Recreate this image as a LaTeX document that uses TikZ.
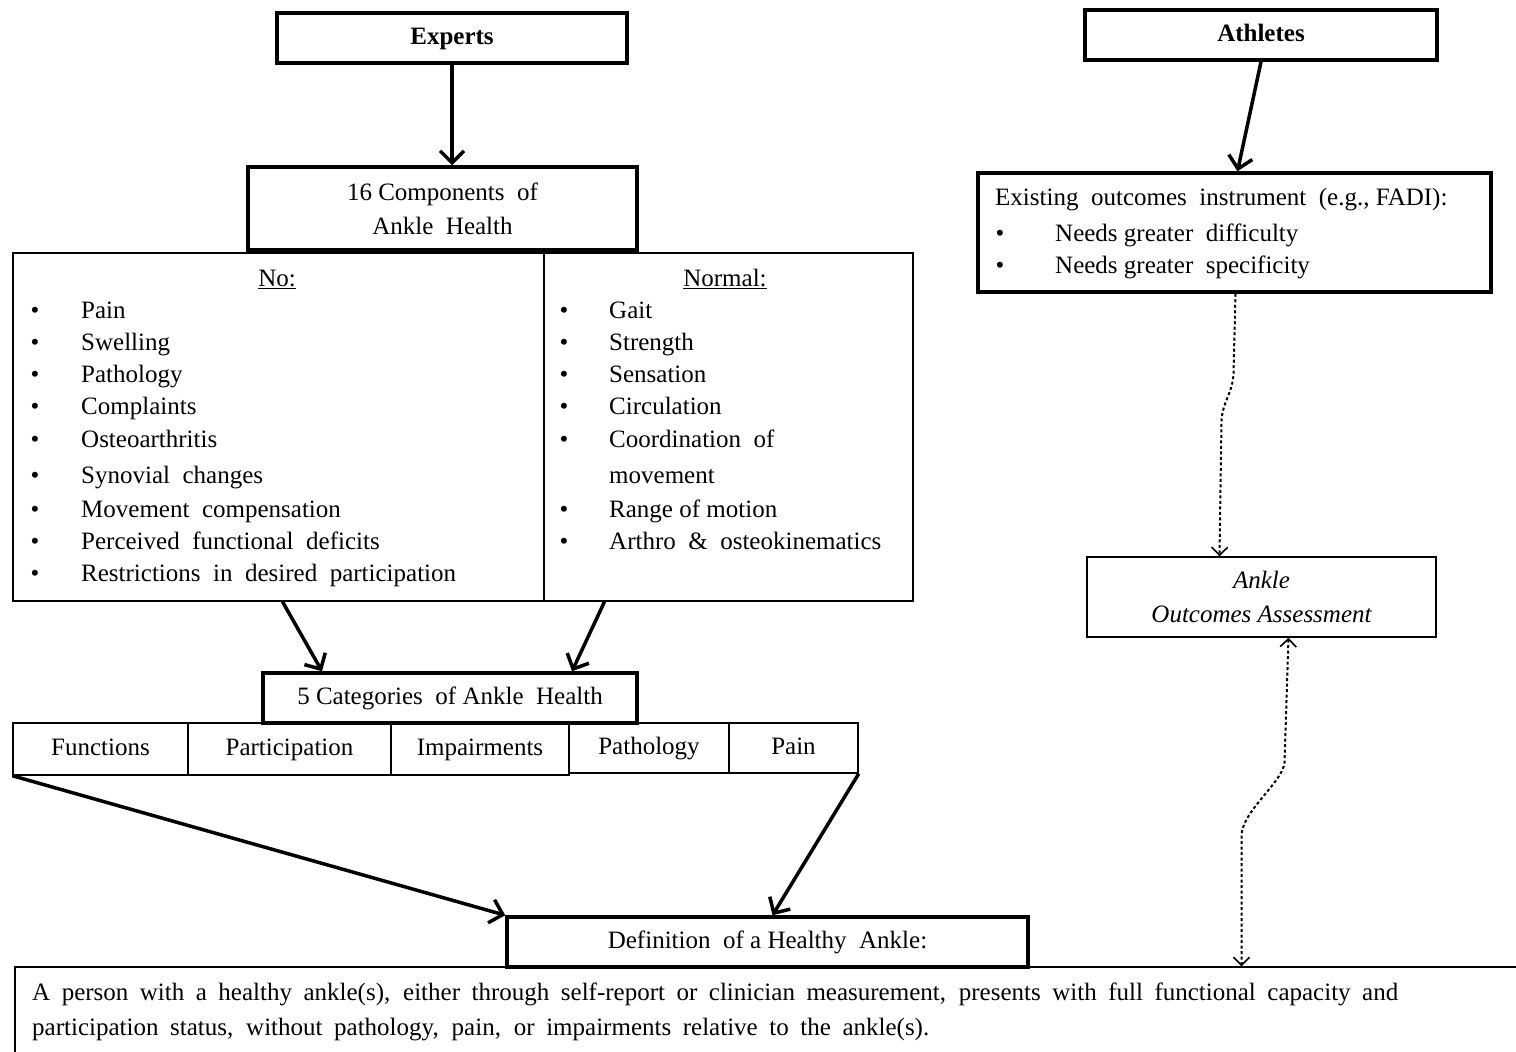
\documentclass[tikz,border=0pt]{standalone}
\usepackage{fontspec}
\setmainfont{Liberation Serif}
\usetikzlibrary{arrows.meta,calc}
\begin{document}
\begin{tikzpicture}[x=1pt,y=-1pt,
  every node/.style={font=\fontsize{25}{34}\selectfont, inner sep=0pt},
  thickbox/.style={draw, line width=3.5pt, fill=white},
  thinbox/.style={draw, line width=1.4pt},
  fixh/.style={text height=17pt, text depth=5pt},
  txt/.style={anchor=west, fixh},
  bul/.style={anchor=center, fixh},
  bigarrow/.style={line width=3.5pt, -{Straight Barb[length=12pt,width=24pt]}},
  dotarrow/.style={line width=2pt, dash pattern=on 3pt off 2.5pt, -{Straight Barb[length=8pt,width=16pt,line width=1.6pt]}},
  dotarrow2/.style={line width=2pt, dash pattern=on 3pt off 2.5pt, {Straight Barb[length=8pt,width=16pt,line width=1.6pt]}-{Straight Barb[length=8pt,width=16pt,line width=1.6pt]}}
]
\useasboundingbox (0,0) rectangle (1516,1052);
\fill[white] (0,0) rectangle (1516,1052);

% list boxes
\node[thinbox, minimum width=531, minimum height=348] (nobox) at (278.5,427) {};
\node[thinbox, minimum width=369, minimum height=348] (normbox) at (728.5,427) {};

% top boxes
\node[thickbox, minimum width=350, minimum height=50, fixh] (experts) at (452,38) {\textbf{Experts}};
\node[thickbox, minimum width=352, minimum height=50, fixh] (athletes) at (1261,35) {\textbf{Athletes}};
\node[thickbox, minimum width=389, minimum height=83, align=center] (comp) at (442.5,208.5) {16 Components\ \ of\\Ankle\ \ Health};
\node[thickbox, minimum width=513, minimum height=119] (exist) at (1234.5,232.5) {};

% No list
\node[fixh] (nohead) at (277,280) {\underline{No:}};
\foreach \y/\t [count=\i] in {312/Pain,344/Swelling,376/Pathology,408/Complaints,441/Osteoarthritis,477/Synovial\ \ changes,511/Movement\ \ compensation,543/Perceived\ \ functional\ \ deficits,575/Restrictions\ \ in\ \ desired\ \ participation}{
  \node[bul] (nob\i) at (35,\y) {•};
  \node[txt] (not\i) at (81,\y) {\t};
}
% Normal list
\node[fixh] (normhead) at (725,280) {\underline{Normal:}};
\foreach \y [count=\i] in {312,344,376,408,441,511,543}{
  \node[bul] (nrb\i) at (564,\y) {•};
}
\foreach \y/\t [count=\i] in {312/Gait,344/Strength,376/Sensation,408/Circulation,441/Coordination\ \ of,477/movement,511/Range\ of\ motion,543/Arthro\ \ \&\ \ osteokinematics}{
  \node[txt] (nrt\i) at (609,\y) {\t};
}

% Existing instrument text
\node[txt] (ex0) at (995,199) {Existing\ \ outcomes\ \ instrument\ \ (e.g.,\ FADI):};
\node[bul] (exb1) at (1000,235) {•};
\node[txt] (ex1) at (1055,235) {Needs\ greater\ \ difficulty};
\node[bul] (exb2) at (1000,267) {•};
\node[txt] (ex2) at (1055,267) {Needs\ greater\ \ specificity};

% Ankle outcomes assessment
\node[thinbox, minimum width=349, minimum height=80, align=center] (ankle) at (1261.5,597) {\itshape Ankle\\\itshape Outcomes Assessment};

% 5 categories
\node[thickbox, minimum width=374, minimum height=50, fixh] (cat5) at (450,698) {5 Categories\ \ of Ankle\ \ Health};
\node[thinbox, minimum width=175, minimum height=52, fixh] (functions) at (100.5,749) {Functions};
\node[thinbox, minimum width=203, minimum height=52, fixh] (particip) at (289.5,749) {Participation};
\node[thinbox, minimum width=178, minimum height=52, fixh] (impair) at (480,749) {Impairments};
\node[thinbox, minimum width=160, minimum height=50, fixh] (patho) at (649,748) {Pathology};
\node[thinbox, minimum width=129, minimum height=50, fixh] (pain) at (793.5,748) {Pain};

% bottom paragraph box
\node[thinbox, minimum width=1515, minimum height=110] (para) at (772.5,1022) {};
\node[txt] (p1) at (32,994) {\makebox[1366pt][s]{A person with a healthy ankle(s), either through self-report or clinician measurement, presents with full functional capacity and}};
\node[txt] (p2) at (32,1029) {\makebox[897pt][s]{participation status, without pathology, pain, or impairments relative to the ankle(s).}};

% definition
\node[thickbox, minimum width=521, minimum height=50, fixh] (def) at (767.5,942) {Definition\ \ of a Healthy\ \ Ankle:};

% arrows
\draw[bigarrow] (experts.south) -- (experts.south |- comp.north);
\draw[bigarrow] (athletes.south) -- ([xshift=3]exist.north);
\draw[bigarrow] ([xshift=4]nobox.south) -- ([xshift=-128]cat5.north);
\draw[bigarrow] ([xshift=-124]normbox.south) -- ([xshift=122]cat5.north);
\draw[bigarrow] (functions.south west) -- (def.north west);
\draw[bigarrow] (pain.south east) -- ([xshift=5]def.north);

\draw[dotarrow] ([xshift=1]exist.south) -- ++(-2,80) .. controls +(-1,20) and +(1,-20) .. ([xshift=-40,yshift=135]ankle.north) -- ([xshift=-42]ankle.north);
\draw[dotarrow2] ([xshift=27]ankle.south) -- ++(-4,125) .. controls +(-2,20) and +(0,-25) .. ([xshift=469,yshift=130]para.north) -- ([xshift=469]para.north);
\end{tikzpicture}
\end{document}
